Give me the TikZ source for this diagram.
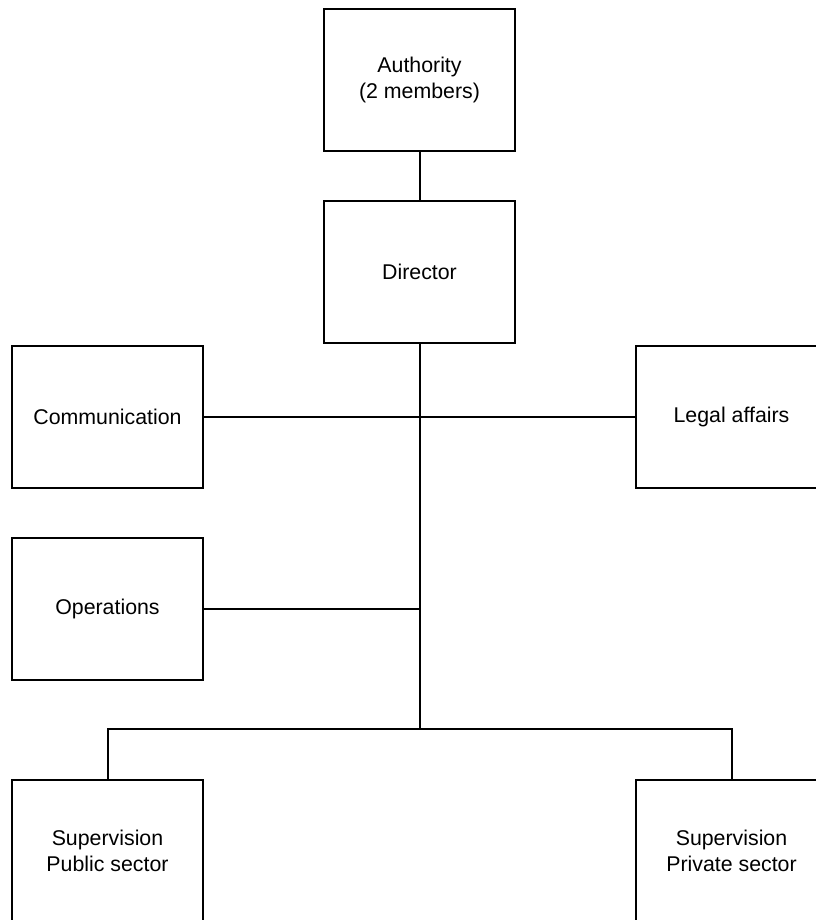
\documentclass[tikz,border=0pt]{standalone}
\usepackage{fontspec}
\setmainfont{Liberation Sans}
\usetikzlibrary{positioning}

\begin{document}
\begin{tikzpicture}[x=0.75pt, y=-0.75pt, font=\fontsize{16}{19.5}\selectfont, line width=1.5pt,
    unit/.style={draw, minimum width=143.25pt, minimum height=106.5pt, align=center, inner sep=0pt},
    link/.style={line width=1.5pt}]
    \clip (0,0) rectangle (816,920);
    \useasboundingbox (0,0) rectangle (816,920);
    \node[unit] (auth) at (419.5,80) {Authority\\(2 members)};
    \node[unit] (dir) at (419.5,272) {Director};
    \node[unit] (comm) at (107.5,417) {Communication};
    \node[unit] (legal) at (731.5,417) {Legal affairs};
    \node[unit] (ops) at (107.5,609) {Operations};
    \node[unit] (pub) at (107.5,850.5) {Supervision\\Public sector};
    \node[unit] (priv) at (731.5,850.5) {Supervision\\Private sector};
    \coordinate (hub) at (dir.south |- 0,729);
    \draw[link] (auth) -- (dir);
    \draw[link] (dir) -- (hub);
    \draw[link] (comm) -- (legal);
    \draw[link] (ops.east) -- (ops.east -| hub);
    \draw[link] (pub.north) |- (hub) -| (priv.north);
\end{tikzpicture}
\end{document}
